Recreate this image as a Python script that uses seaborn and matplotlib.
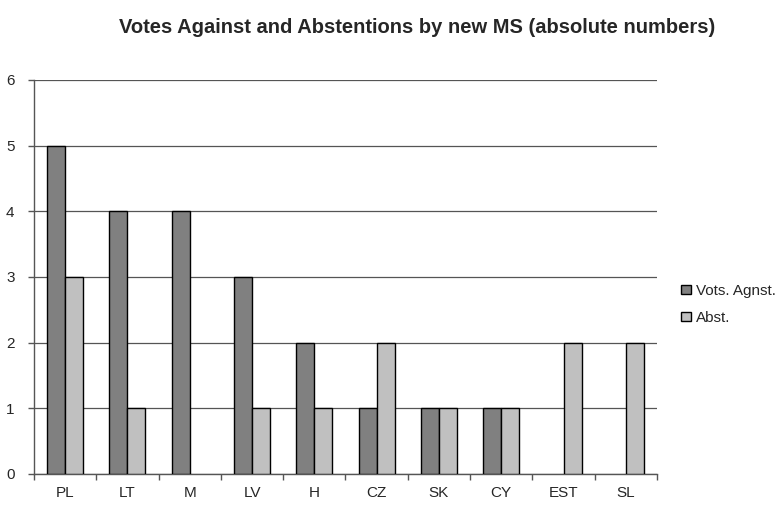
import numpy as np
import pandas as pd
import matplotlib
matplotlib.use('Agg')
import matplotlib.pyplot as plt
import seaborn as sns

# Data
countries = ['PL', 'LT', 'M', 'LV', 'H', 'CZ', 'SK', 'CY', 'EST', 'SL']
votes_against = [5, 4, 4, 3, 2, 1, 1, 1, 0, 0]
abstentions = [3, 1, 0, 1, 1, 2, 1, 1, 2, 2]
series_names = ['Vots. Agnst.', 'Abst.']

df = pd.DataFrame({
    'country': countries * 2,
    'value': votes_against + abstentions,
    'series': [series_names[0]] * len(countries) + [series_names[1]] * len(countries),
})
# zero values are just not drawn in the original
df['value'] = df['value'].replace(0, np.nan)

sns.set_style('white')
plt.rcParams['font.family'] = ['Liberation Sans', 'DejaVu Sans']

fig = plt.figure(figsize=(7.79, 5.05), dpi=100)
ax = fig.add_axes([0.0436, 0.0614, 0.7998, 0.7802])

sns.barplot(data=df, x='country', y='value', hue='series', order=countries,
            hue_order=series_names, palette=['#808080', '#C0C0C0'],
            width=0.58, edgecolor='black', linewidth=1.0, saturation=1,
            errorbar=None, ax=ax, zorder=3)

ax.set_ylim(0, 6)
ax.set_xlim(-0.5, len(countries) - 0.5)
ax.set_yticks(range(0, 7))
ax.yaxis.grid(True, color='#555555', linewidth=0.9, zorder=0)
ax.set_axisbelow(True)

# category ticks at boundaries, labels at centres
ax.set_xticks([i - 0.5 for i in range(len(countries) + 1)], minor=False)
ax.set_xticklabels([])
ax.set_xticks(range(len(countries)), minor=True)
ax.set_xticklabels(countries, minor=True)
ax.tick_params(axis='x', which='major', direction='out', length=4, width=1, color='#555555', bottom=True)
ax.tick_params(axis='x', which='minor', length=0, pad=9, labelsize=11)
ax.tick_params(axis='y', direction='out', length=4, width=1, color='#555555', left=True, labelsize=11, pad=10)

for side in ['top', 'right']:
    ax.spines[side].set_visible(False)
for side in ['left', 'bottom']:
    ax.spines[side].set_color('#555555')
    ax.spines[side].set_linewidth(1)

ax.set_xlabel('')
ax.set_ylabel('')

handles, labels = ax.get_legend_handles_labels()
ax.legend_.remove()
fig.legend(handles, labels, loc='center left', bbox_to_anchor=(0.857, 0.397),
           frameon=False, fontsize=11, handlelength=0.6, handleheight=0.6,
           handletextpad=0.35, labelspacing=0.85)

fig.suptitle('Votes Against and Abstentions by new MS (absolute numbers)',
             x=0.535, y=0.965, fontsize=14.5, fontweight='bold')

fig.savefig('out.png', dpi=100)
